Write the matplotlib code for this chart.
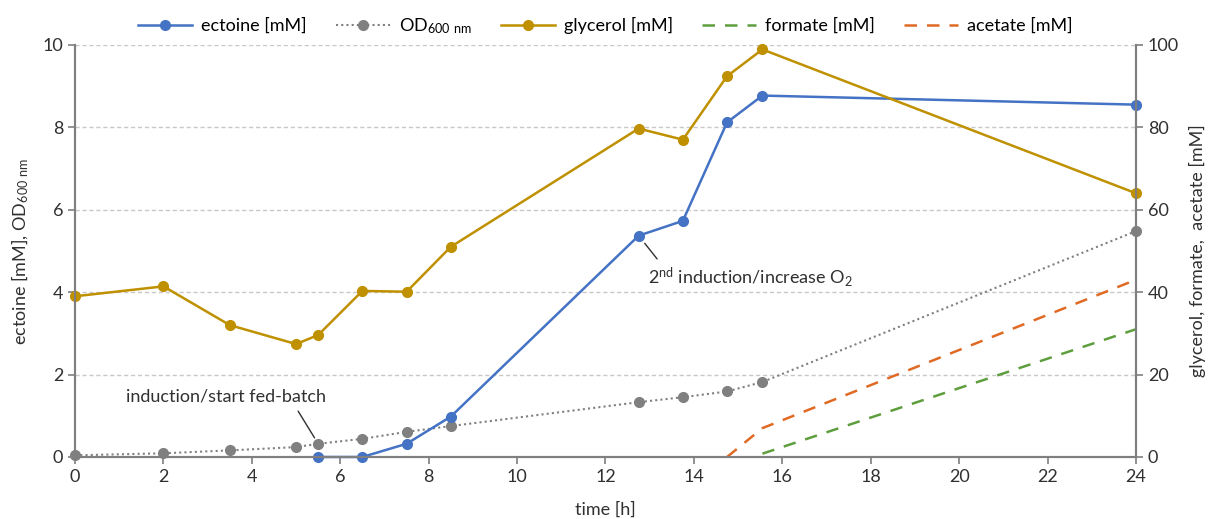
import matplotlib.pyplot as plt

plt.rcParams['font.family'] = ['Lato', 'DejaVu Sans']
plt.rcParams['mathtext.default'] = 'regular'

# sampling times [h]
t = [0, 2, 3.5, 5, 5.5, 6.5, 7.5, 8.5, 12.75, 13.75, 14.75, 15.55, 24]
t_ect = [5.5, 6.5, 7.5, 8.5, 12.75, 13.75, 14.75, 15.55, 24]

ectoine = [0, 0, 0.32, 0.98, 5.37, 5.73, 8.12, 8.77, 8.55]
od600 = [0.04, 0.09, 0.16, 0.24, 0.32, 0.44, 0.61, 0.75, 1.33, 1.45, 1.59, 1.82, 5.48]
glycerol = [39.0, 41.4, 32.0, 27.4, 29.6, 40.3, 40.1, 51.0, 79.7, 77.0, 92.4, 98.9, 64.0]

t_acetate = [14.75, 15.55, 24]
acetate = [0, 7.0, 43.0]
t_formate = [15.55, 24]
formate = [0.8, 31.0]

blue = '#4472C4'
grey = '#808080'
gold = '#BF9000'
green = '#5E9E3E'
orange = '#E06A24'
axis_col = '#7F7F7F'
txt = '#303030'
fs = 13

fig = plt.figure(figsize=(12.11, 5.19), dpi=100)
ax = fig.add_axes([0.062, 0.1195, 0.876, 0.794])
ax2 = ax.twinx()

l1, = ax.plot(t_ect, ectoine, color=blue, lw=1.8, marker='o', ms=7, label='ectoine [mM]',
              zorder=4, clip_on=False)
l2, = ax.plot(t, od600, color=grey, lw=1.5, ls=(0, (1, 1.5)), marker='o', ms=7,
              label='OD$_{600\\ nm}$', zorder=3, clip_on=False)
l3, = ax2.plot(t, glycerol, color=gold, lw=1.8, marker='o', ms=7, label='glycerol [mM]',
               clip_on=False)
l4, = ax2.plot(t_formate, formate, color=green, lw=1.8, ls=(0, (5, 4)), label='formate [mM]')
l5, = ax2.plot(t_acetate, acetate, color=orange, lw=1.8, ls=(0, (5, 4)), label='acetate [mM]')

ax.set_xlim(0, 24)
ax.set_ylim(0, 10)
ax2.set_ylim(0, 100)
ax.set_xticks(range(0, 25, 2))
ax.set_yticks(range(0, 11, 2))
ax2.set_yticks(range(0, 101, 20))

ax.yaxis.grid(True, color='#C8C8C8', ls=(0, (3, 2)), lw=1)
ax.set_axisbelow(True)

for a in (ax, ax2):
    a.spines['top'].set_visible(False)
    for s in ('left', 'right', 'bottom'):
        a.spines[s].set_color(axis_col)
        a.spines[s].set_linewidth(1.5)
    a.tick_params(colors=axis_col, labelcolor=txt, labelsize=fs, length=5, width=1.2)

ax.set_xlabel('time [h]', fontsize=fs, color=txt, labelpad=12)
ax.set_ylabel('ectoine [mM], OD$_{600\\ nm}$', fontsize=fs, color=txt, labelpad=8)
ax2.set_ylabel('glycerol, formate,  acetate [mM]', fontsize=fs, color=txt, labelpad=7)

ax.annotate('induction/start fed-batch', xy=(t[4], od600[4]), xytext=(3.42, 1.46),
            ha='center', va='center', fontsize=fs, color=txt,
            arrowprops=dict(arrowstyle='-', color=txt, lw=1, relpos=(0.84, 0),
                            shrinkA=3, shrinkB=5), zorder=6)
ax.annotate('2$^{nd}$ induction/increase O$_2$', xy=(t_ect[4], ectoine[4]), xytext=(15.27, 4.37),
            ha='center', va='center', fontsize=fs, color=txt,
            arrowprops=dict(arrowstyle='-', color=txt, lw=1, relpos=(0.07, 1),
                            shrinkA=3, shrinkB=7), zorder=6)

ax.legend(handles=[l1, l2, l3, l4, l5], loc='lower center', bbox_to_anchor=(0.5, 1.0),
          ncol=5, frameon=False, fontsize=fs, handlelength=3.0, columnspacing=1.6,
          handletextpad=0.5, borderaxespad=0.1)

fig.savefig('out.png', dpi=100)
